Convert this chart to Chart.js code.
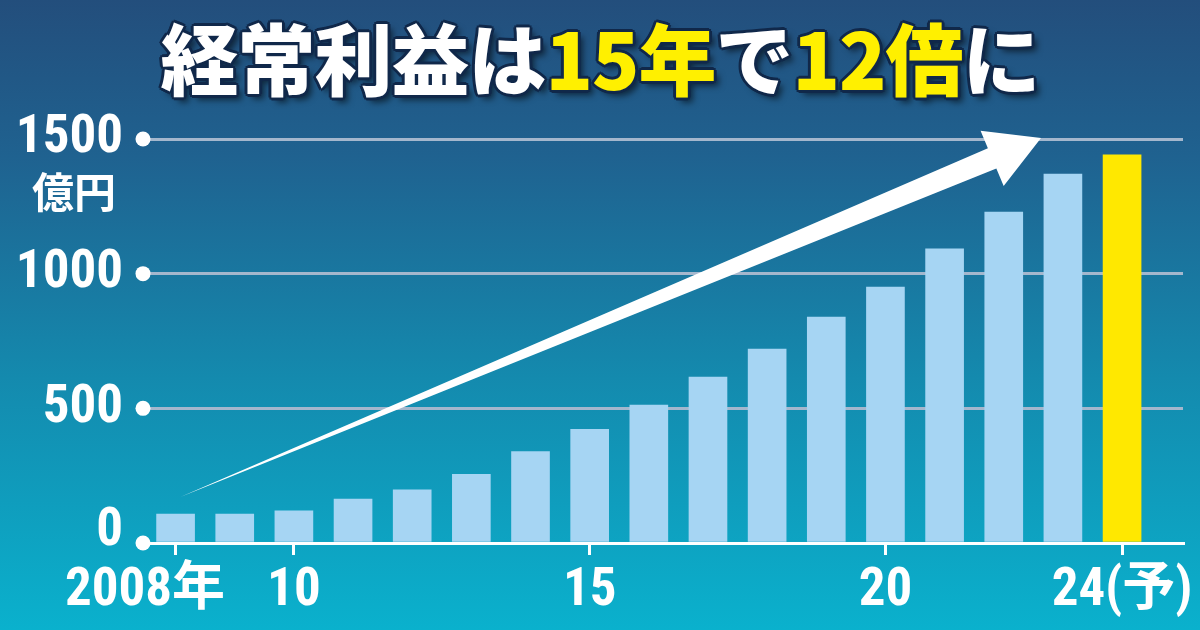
<!DOCTYPE html>
<html lang="ja">
<head>
<meta charset="utf-8">
<title>経常利益は15年で12倍に</title>
<script src="https://cdn.jsdelivr.net/npm/chart.js@4.4.1/dist/chart.umd.min.js"></script>
<style>
    html, body { margin: 0; padding: 0; }
    body {
        width: 1200px;
        height: 630px;
        overflow: hidden;
        position: relative;
        background: linear-gradient(to bottom, #234e7c 0%, #1f6290 25%, #148aae 60%, #0ab1cd 100%);
        font-family: "Noto Sans CJK JP", sans-serif;
    }
    #chart { position: absolute; left: 0; top: 0; }
    #title {
        position: absolute;
        left: 0;
        top: 6px;
        width: 1200px;
        text-align: center;
        font-size: 78px;
        font-weight: 900;
        line-height: 100px;
        color: #fff;
        white-space: nowrap;
        letter-spacing: -1px;
        text-shadow:
            3px 0 0 #10284a, -3px 0 0 #10284a, 0 3px 0 #10284a, 0 -3px 0 #10284a,
            2px 2px 0 #10284a, -2px -2px 0 #10284a, 2px -2px 0 #10284a, -2px 2px 0 #10284a,
            5px 5px 6px rgba(0, 0, 0, 0.55);
    }
    #title .hl { color: #fff000; }
</style>
</head>
<body>
<canvas id="chart" width="1200" height="630"></canvas>
<div id="title">経常利益は<span class="hl">15年</span>で<span class="hl">12倍</span>に</div>
<script>
// data (億円)
const years = [2008, 2009, 2010, 2011, 2012, 2013, 2014, 2015, 2016, 2017, 2018, 2019, 2020, 2021, 2022, 2023, 2024];
const profits = [107, 107, 119, 163, 197, 255, 339, 422, 512, 616, 720, 839, 950, 1092, 1229, 1370, 1441];
const yearTicks = [2008, 2010, 2015, 2020, 2024];
const yearLabels = ['2008年     ', '10', '15', '20', '24(予)'];
const valueTicks = [0, 500, 1000, 1500];
const unitLabel = '億円';

const NUM_FONT = '"Liberation Sans Narrow", "Roboto Condensed", Roboto, "Noto Sans CJK JP", sans-serif';
const BAR_BLUE = '#a6d5f3';
const BAR_YELLOW = '#ffe800';
const GRID = '#a4b7cd';

// arrow, tick dots and unit label
const decor = {
    id: 'decor',
    afterDatasetsDraw(chart) {
        const { ctx, chartArea, scales: { x, y } } = chart;
        ctx.save();

        // white dots at each value tick
        ctx.fillStyle = '#fff';
        valueTicks.forEach(v => {
            ctx.beginPath();
            ctx.arc(chartArea.left - 3, y.getPixelForValue(v), 7.5, 0, Math.PI * 2);
            ctx.fill();
        });

        // unit under the top tick
        ctx.font = 'bold 42px "Noto Sans CJK JP", sans-serif';
        ctx.textAlign = 'center';
        ctx.textBaseline = 'middle';
        ctx.fillText(unitLabel, chartArea.left - 72, y.getPixelForValue(1500) + 53);

        // big growth arrow
        const tx = x.getPixelForValue(2008.08), ty = y.getPixelForValue(171);
        const hx = x.getPixelForValue(2022.63), hy = y.getPixelForValue(1504);
        const len = Math.hypot(hx - tx, hy - ty);
        const ux = (hx - tx) / len, uy = (hy - ty) / len;
        const nx = -uy, ny = ux;
        const headLen = 53, headHalf = 30, shaftHalf = 11;
        const bx = hx - ux * headLen, by = hy - uy * headLen;
        ctx.beginPath();
        ctx.moveTo(tx, ty);
        ctx.lineTo(bx - nx * shaftHalf, by - ny * shaftHalf);
        ctx.lineTo(bx - nx * headHalf, by - ny * headHalf);
        ctx.lineTo(hx, hy);
        ctx.lineTo(bx + nx * headHalf, by + ny * headHalf);
        ctx.lineTo(bx + nx * shaftHalf, by + ny * shaftHalf);
        ctx.closePath();
        ctx.fill();

        ctx.restore();
    }
};

new Chart(document.getElementById('chart'), {
    type: 'bar',
    data: {
        datasets: [{
            data: years.map((yr, i) => ({ x: yr, y: profits[i] })),
            backgroundColor: years.map((yr, i) => i === years.length - 1 ? BAR_YELLOW : BAR_BLUE),
            barThickness: 38,
            borderWidth: 0
        }]
    },
    options: {
        responsive: false,
        animation: false,
        layout: { padding: { top: 139, right: 17, left: 0, bottom: 0 } },
        plugins: { legend: { display: false }, tooltip: { enabled: false } },
        scales: {
            x: {
                type: 'linear',
                min: 2007.5,
                max: 2025.03,
                offset: false,
                z: 1,
                afterBuildTicks: s => { s.ticks = yearTicks.map(v => ({ value: v })); },
                afterFit: s => { s.height = 87; },
                ticks: {
                    color: '#fff',
                    autoSkip: false,
                    maxRotation: 0,
                    padding: 5,
                    font: { family: NUM_FONT, size: 53, weight: 'bold' },
                    callback: v => yearLabels[yearTicks.indexOf(v)]
                },
                grid: { offset: false, drawOnChartArea: false, drawTicks: true, tickLength: 12, color: '#fff', lineWidth: 3 },
                border: { color: '#fff', width: 3 }
            },
            y: {
                min: 0,
                max: 1500,
                afterBuildTicks: s => { s.ticks = valueTicks.map(v => ({ value: v })); },
                afterFit: s => { s.width = 146; },
                ticks: {
                    color: '#fff',
                    padding: 23,
                    font: c => ({
                        family: NUM_FONT,
                        size: 53,
                        weight: 'bold',
                        lineHeight: c.tick && c.tick.value === 0 ? 0.42 : 1.2
                    }),
                    callback: v => v === 0 ? ['0', ''] : String(v)
                },
                grid: {
                    drawTicks: false,
                    lineWidth: 3,
                    color: c => c.tick && c.tick.value === 0 ? 'rgba(0,0,0,0)' : GRID
                },
                border: { display: false }
            }
        }
    },
    plugins: [decor]
});
</script>
</body>
</html>
